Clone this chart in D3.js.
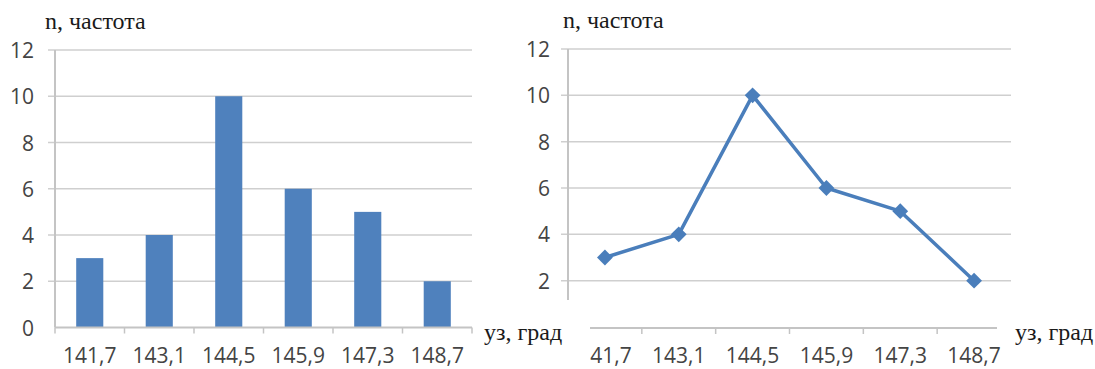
<!DOCTYPE html>
<html>
<head>
<meta charset="utf-8">
<script src="https://cdn.jsdelivr.net/npm/d3@7"></script>
<style>
  html, body { margin: 0; padding: 0; background: #fff; }
  svg { display: block; }
</style>
</head>
<body>
<svg id="chart" width="1095" height="369"></svg>
<script>
// Frequency distribution of y3 (degrees)
const categories = ["141,7", "143,1", "144,5", "145,9", "147,3", "148,7"];
const frequencies = [3, 4, 10, 6, 5, 2];
const yTicks = [0, 2, 4, 6, 8, 10, 12];
const yTitle = "n, частота";
const xTitle = "уз, град";

const svg = d3.select("#chart");
const blue = "#4f81bd";
const lineBlue = "#4a7ebb";
const gridColor = "#cfcfcf";
const axisColor = "#c4c4c4";

function asLabel(sel) {
  return sel.style("font-family", '"Open Sans"').style("font-size", "21px").style("fill", "#444");
}
function asTitle(sel) {
  return sel.style("font-family", '"Liberation Serif"').style("font-size", "24px").style("fill", "#1a1a1a");
}

function drawFrame(g, x0, x1, yScale, bottomY, labelX, labelTicks) {
  // horizontal gridlines with short outer tick marks
  g.append("g").selectAll("line")
    .data(yTicks.filter(d => d > 0))
    .join("line")
    .attr("x1", x0 - 7).attr("x2", x1)
    .attr("y1", d => yScale(d)).attr("y2", d => yScale(d))
    .attr("stroke", gridColor).attr("stroke-width", 1.5);

  // value labels
  const axis = g.append("g")
    .attr("transform", `translate(${labelX},0)`)
    .call(d3.axisLeft(yScale).tickValues(labelTicks).tickSize(0).tickPadding(0));
  axis.select(".domain").remove();
  axis.attr("font-family", null).attr("font-size", null);
  asLabel(axis.selectAll("text").attr("fill", null).attr("dy", "0.36em"));

  // vertical axis
  g.append("line")
    .attr("x1", x0).attr("x2", x0)
    .attr("y1", yScale(12)).attr("y2", bottomY)
    .attr("stroke", axisColor).attr("stroke-width", 2);
}

function drawCategoryAxis(g, scaleX, x0, x1, yPos) {
  const step = (x1 - x0) / categories.length;
  const bounds = d3.range(categories.length + 1).map(i => x0 + i * step);
  g.append("line")
    .attr("x1", x0).attr("x2", x1).attr("y1", yPos).attr("y2", yPos)
    .attr("stroke", axisColor).attr("stroke-width", 2);
  g.append("g").selectAll("line")
    .data(bounds).join("line")
    .attr("x1", d => d).attr("x2", d => d)
    .attr("y1", yPos).attr("y2", yPos + 6)
    .attr("stroke", axisColor).attr("stroke-width", 1.5);
  asLabel(g.append("g").selectAll("text")
    .data(categories).join("text")
    .attr("x", d => scaleX(d)).attr("y", yPos + 35)
    .attr("text-anchor", "middle")
    .text(d => d));
}

// ---------- histogram ----------
const L = { x0: 55, x1: 472, top: 50, bottom: 327.5 };
const gL = svg.append("g");
const yL = d3.scaleLinear().domain([0, 12]).range([L.bottom, L.top]);
const xL = d3.scaleBand().domain(categories).range([L.x0, L.x1])
  .paddingInner(0.61).paddingOuter(0.305);

drawFrame(gL, L.x0, L.x1, yL, L.bottom, 34, yTicks);

gL.append("g").selectAll("rect")
  .data(categories).join("rect")
  .attr("x", d => xL(d))
  .attr("width", xL.bandwidth())
  .attr("y", (d, i) => yL(frequencies[i]))
  .attr("height", (d, i) => yL(0) - yL(frequencies[i]))
  .attr("fill", blue);

drawCategoryAxis(gL, d => xL(d) + xL.bandwidth() / 2, L.x0, L.x1, L.bottom);

asTitle(gL.append("text").attr("x", 45).attr("y", 29).text(yTitle));

// ---------- frequency polygon ----------
const R = { x0: 568, x1: 1011, top: 49, bottom: 327 };
const gR = svg.append("g");
const yR = d3.scaleLinear().domain([0, 12]).range([R.bottom, R.top]);
const xR = d3.scalePoint().domain(categories).range([R.x0, R.x1]).padding(0.5);

// the zero label sits under the caption box, so only 2..12 are labelled
drawFrame(gR, R.x0, R.x1, yR, R.bottom, 550, yTicks.filter(d => d > 0));
drawCategoryAxis(gR, d => xR(d), R.x0, R.x1, R.bottom + 1);

const line = d3.line()
  .x((d, i) => xR(categories[i]))
  .y(d => yR(d));

gR.append("path")
  .datum(frequencies)
  .attr("d", line)
  .attr("fill", "none")
  .attr("stroke", lineBlue)
  .attr("stroke-width", 3.5)
  .attr("stroke-linejoin", "round");

gR.append("g").selectAll("path")
  .data(frequencies).join("path")
  .attr("transform", (d, i) => `translate(${xR(categories[i])},${yR(d)}) rotate(45)`)
  .attr("d", d3.symbol().type(d3.symbolSquare).size(125))
  .attr("fill", lineBlue);

asTitle(gR.append("text").attr("x", 563).attr("y", 28).text(yTitle));

// ---------- x-axis captions in their own white boxes ----------
const captions = [
  { x: 478, y: 300, w: 112, h: 69, tx: 484 },
  { x: 997, y: 300, w: 98, h: 44, tx: 1015 }
];
captions.forEach(c => {
  svg.append("rect")
    .attr("x", c.x).attr("y", c.y).attr("width", c.w).attr("height", c.h)
    .attr("fill", "#fff");
  asTitle(svg.append("text").attr("x", c.tx).attr("y", 340).text(xTitle));
});
</script>
</body>
</html>
